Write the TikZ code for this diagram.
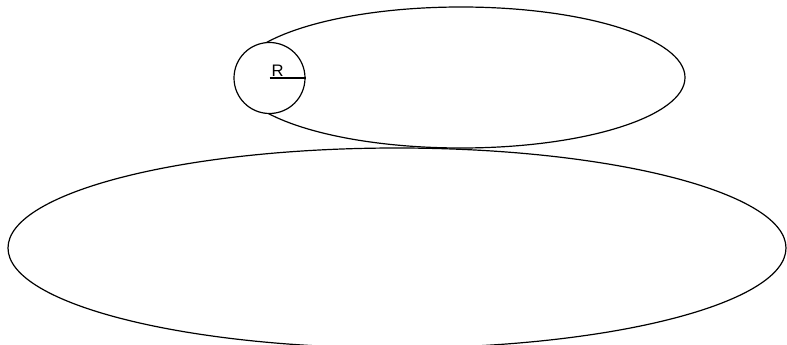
\documentclass[tikz,border=0pt]{standalone}
\usepackage{fontspec}
\setmainfont{Liberation Sans}
\usetikzlibrary{positioning}
\tikzset{hub/.style={circle, draw, fill=white, inner sep=0pt, minimum size=53.25pt}}
\begin{document}
\begin{tikzpicture}[x=0.75pt,y=-0.75pt,line width=0.9pt]
  \useasboundingbox (0,0) rectangle (787,345);
  \clip (0,0) rectangle (787,345);
  % the two ellipses
  \draw (397,248) ellipse [x radius=389, y radius=100];
  \draw (461,77.5) ellipse [x radius=224, y radius=70.5];
  % circle with its radius
  \node[hub] (wheel) at (269.5,78) {};
  \draw (wheel.center) -- (wheel.east);
  \node[anchor=base west, inner sep=0pt, font=\fontsize{12.5}{14}\selectfont] (rlabel) at (271,76.5) {R};
\end{tikzpicture}
\end{document}
